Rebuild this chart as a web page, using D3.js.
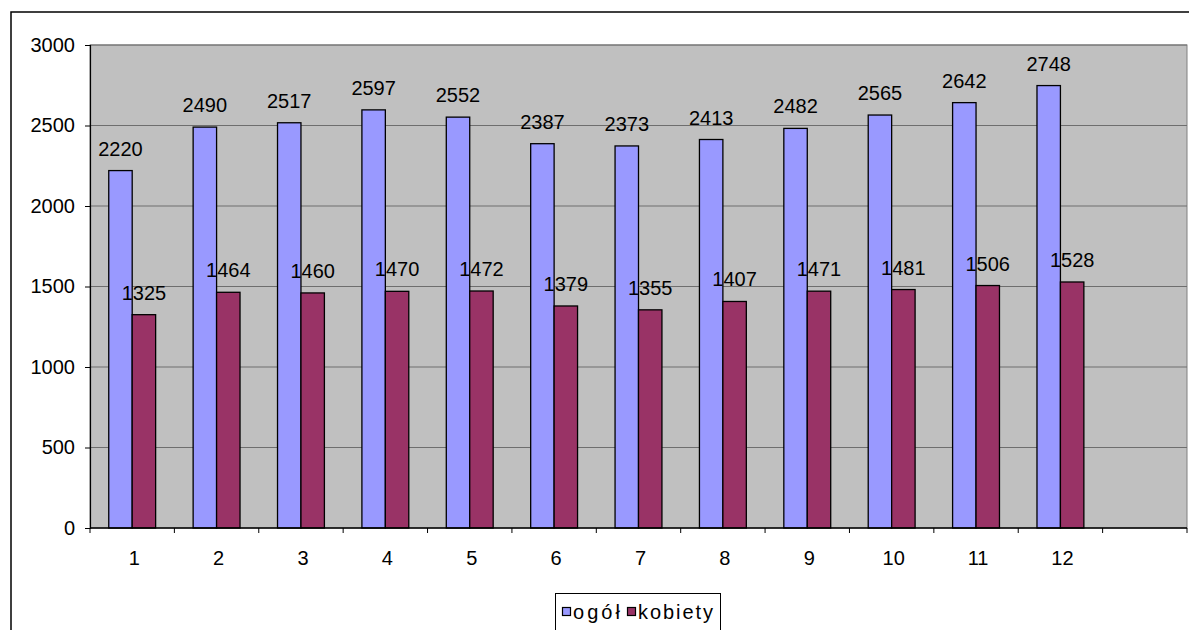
<!DOCTYPE html>
<html><head><meta charset="utf-8">
<script src="https://cdn.jsdelivr.net/npm/d3@7"></script>
<style>body{margin:0;background:#fff}svg{display:block}</style>
</head><body>
<script>
const categories = ["1","2","3","4","5","6","7","8","9","10","11","12",""];
const ogol = [2220,2490,2517,2597,2552,2387,2373,2413,2482,2565,2642,2748];
const kobiety = [1325,1464,1460,1470,1472,1379,1355,1407,1471,1481,1506,1528];
const yTicks = [0,500,1000,1500,2000,2500,3000];
const seriesNames = ["ogół","kobiety"];
const colors = ["#9999FF","#993366"];

const W=1189,H=630;
const svg=d3.select("body").append("svg").attr("width",W).attr("height",H);
const font="'Liberation Sans', Arial, sans-serif";
const fs=20;
// outer frame
svg.append("rect").attr("x",11).attr("y",12).attr("width",1300).attr("height",800)
  .attr("fill","#fff").attr("stroke","#000").attr("stroke-width",1.5);

const L=90,R=1187,T=45,B=528;
const x=d3.scaleBand().domain(categories.map((c,i)=>i)).range([L,R]);
const y=d3.scaleLinear().domain([0,3000]).range([B,T]);
svg.append("rect").attr("x",L).attr("y",T).attr("width",R-L).attr("height",B-T)
  .attr("fill","#C0C0C0").attr("stroke","#808080").attr("stroke-width",1);
// gridlines
svg.append("g").selectAll("line").data(yTicks.slice(1)).join("line")
  .attr("x1",L).attr("x2",R).attr("y1",d=>y(d)).attr("y2",d=>y(d))
  .attr("stroke","#6e6e6e").attr("stroke-width",1.2);

const bw=x.bandwidth()/3.6, off=x.bandwidth()*0.8/3.6;
const data=[ogol,kobiety];
data.forEach((vals,s)=>{
  const g=svg.append("g");
  g.selectAll("rect").data(vals).join("rect")
    .attr("x",(d,i)=>x(i)+off+s*bw).attr("width",bw)
    .attr("y",d=>y(d)).attr("height",d=>B-y(d))
    .attr("fill",colors[s]).attr("stroke","#000").attr("stroke-width",1.3);
  g.selectAll("text").data(vals).join("text")
    .attr("x",(d,i)=>x(i)+off+s*bw+bw/2).attr("y",d=>y(d)-15)
    .attr("text-anchor","middle").attr("font-family",font).attr("font-size",fs)
    .attr("fill","#000").text(d=>d);
});

// y axis
const ya=svg.append("g").attr("transform",`translate(${L},0)`)
  .call(d3.axisLeft(y).tickValues(yTicks).tickSize(5).tickPadding(10).tickFormat(d3.format("d")));
ya.select(".domain").attr("stroke","#000").attr("stroke-width",1.2);
ya.selectAll("line").attr("stroke","#000");
ya.selectAll("text").attr("font-family",font).attr("font-size",fs).attr("fill","#000");
// x axis
const xa=svg.append("g").attr("transform",`translate(0,${B})`);
xa.append("line").attr("x1",L).attr("x2",R).attr("stroke","#000").attr("stroke-width",1.5);
xa.selectAll("line.t").data(d3.range(categories.length+1)).join("line").attr("class","t")
  .attr("x1",i=>L+i*x.step()).attr("x2",i=>L+i*x.step()).attr("y1",0).attr("y2",5)
  .attr("stroke","#000");
xa.selectAll("text").data(categories).join("text")
  .attr("x",(d,i)=>x(i)+x.bandwidth()/2+2).attr("y",37)
  .attr("text-anchor","middle").attr("font-family",font).attr("font-size",fs).text(d=>d);

// legend
const lg=svg.append("g");
lg.append("rect").attr("x",555.5).attr("y",593.5).attr("width",165).attr("height",50)
  .attr("fill","#fff").attr("stroke","#000").attr("stroke-width",1);
const items=[{n:seriesNames[0],c:colors[0],x:562.5,w:47},{n:seriesNames[1],c:colors[1],x:627.5,w:75}];
items.forEach(it=>{
  lg.append("rect").attr("x",it.x).attr("y",607.5).attr("width",8).attr("height",8)
    .attr("fill",it.c).attr("stroke","#000").attr("stroke-width",1.2);
  lg.append("text").attr("x",it.x+10.5).attr("y",618.5).attr("font-family",font)
    .attr("font-size",fs).attr("textLength",it.w).attr("lengthAdjust","spacing").text(it.n);
});
</script>
</body></html>
